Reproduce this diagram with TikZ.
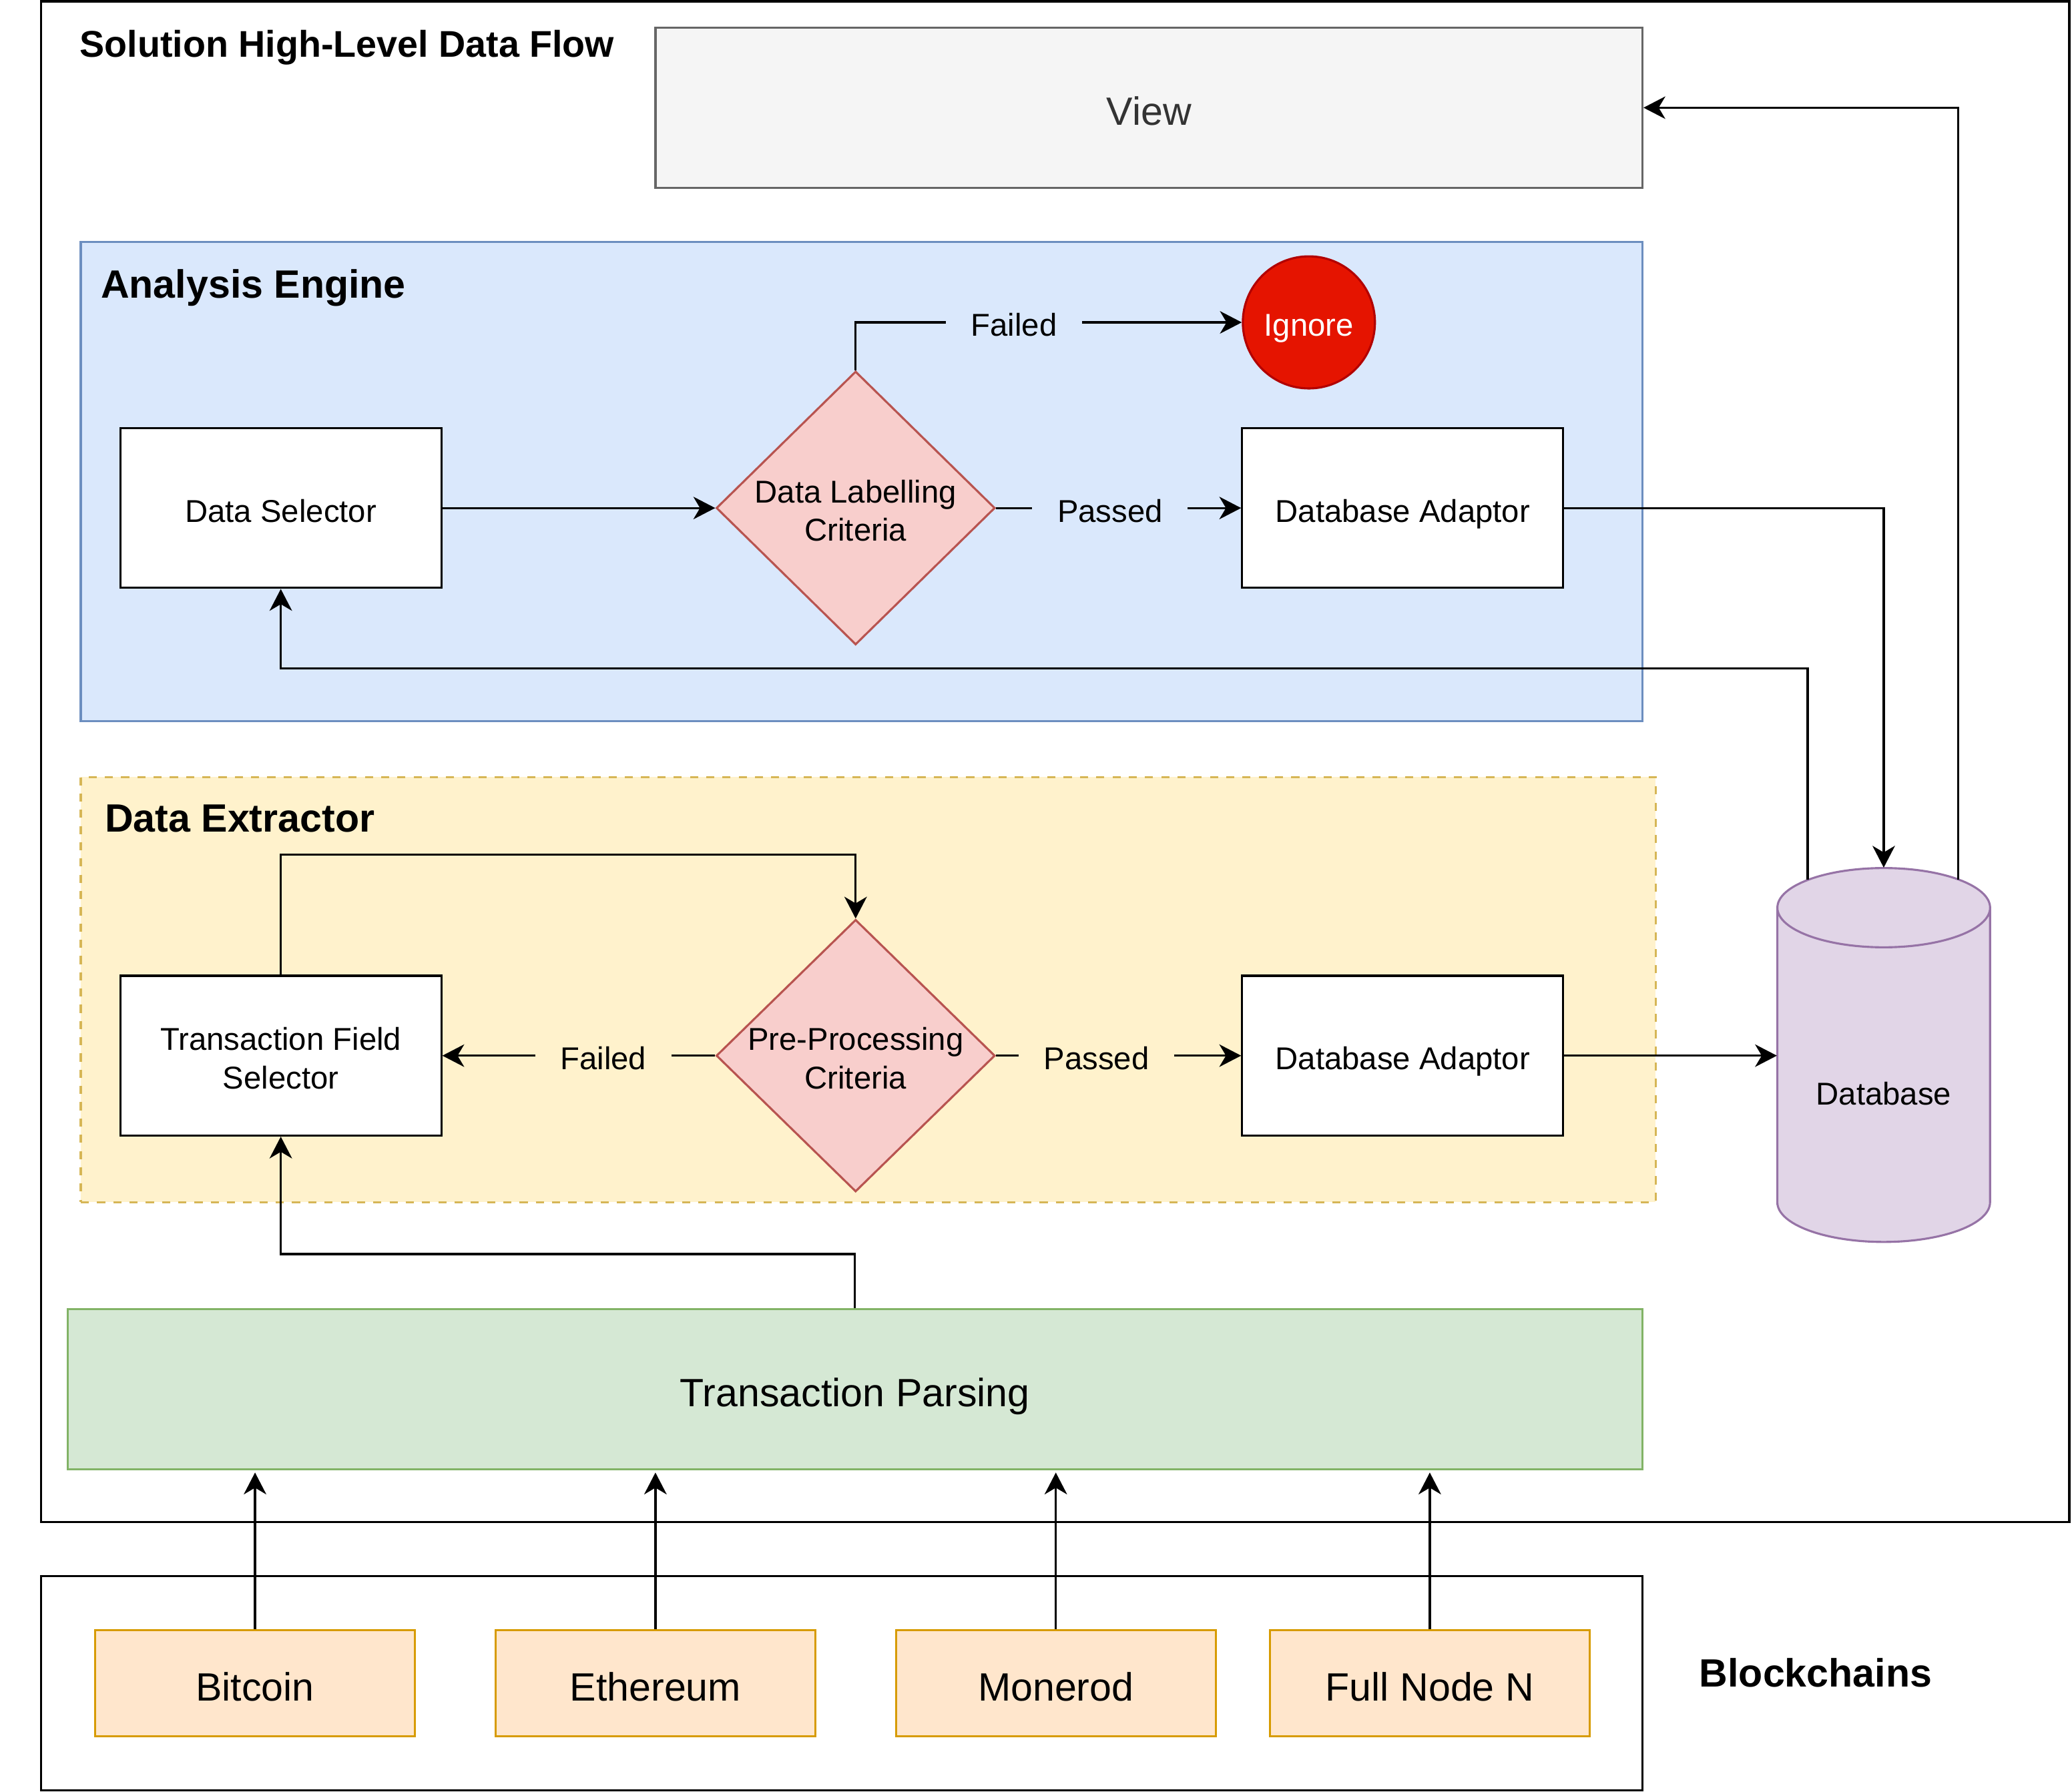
\documentclass[tikz,border=0pt]{standalone}
\usepackage{fontspec}
\setmainfont{Liberation Sans}
\usetikzlibrary{arrows.meta,positioning,shapes.geometric}

\definecolor{viewfill}{HTML}{F5F5F5}
\definecolor{viewline}{HTML}{666666}
\definecolor{viewtext}{HTML}{333333}
\definecolor{engfill}{HTML}{DAE8FC}
\definecolor{engline}{HTML}{6C8EBF}
\definecolor{extfill}{HTML}{FFF2CC}
\definecolor{extline}{HTML}{D6B656}
\definecolor{critfill}{HTML}{F8CECC}
\definecolor{critline}{HTML}{B85450}
\definecolor{ignfill}{HTML}{E51400}
\definecolor{ignline}{HTML}{B20000}
\definecolor{parsefill}{HTML}{D5E8D4}
\definecolor{parseline}{HTML}{82B366}
\definecolor{dbfill}{HTML}{E1D5E7}
\definecolor{dbline}{HTML}{9673A6}
\definecolor{chainfill}{HTML}{FFE6CC}
\definecolor{chainline}{HTML}{D79B00}

\begin{document}
\begin{tikzpicture}[
  x=0.02cm, y=-0.02cm,
  every node/.style={font=\fontsize{13.6}{16.5}\selectfont},
  txt/.style={text height=12pt, text depth=0pt},
  twoline/.style={align=center, text height=28.5pt, text depth=0pt},
  big/.style={font=\fontsize{17}{20}\selectfont, text height=15pt, text depth=0pt},
  heading/.style={font=\bfseries\fontsize{17}{20}\selectfont, anchor=west, inner sep=0pt},
  frame/.style={draw, line width=1pt, inner sep=0pt},
  box/.style={draw, fill=white, line width=0.9pt, txt, align=center, minimum width=4.86cm, minimum height=2.42cm},
  crit/.style={diamond, draw=critline, fill=critfill, line width=0.9pt, inner sep=0pt, minimum width=4.22cm, minimum height=4.14cm},
  chain/.style={draw=chainline, fill=chainfill, line width=0.9pt, big, minimum width=4.84cm, minimum height=1.6cm},
  tagblue/.style={fill=engfill, txt, inner xsep=0.38cm, inner ysep=1pt},
  tagyellow/.style={fill=extfill, txt, inner xsep=0.38cm, inner ysep=1pt},
  arrow/.style={-{Stealth[length=0.33cm, width=0.34cm, inset=0.1cm]}, line width=0.95pt}
]
  \useasboundingbox (0,0) rectangle (1568,1356);

  % outer frames
  \node[frame, minimum width=30.7cm, minimum height=23.02cm] (flow) at (798.5,576.5) {};
  \node[frame, minimum width=24.24cm, minimum height=3.24cm] (chains) at (637,1274) {};
  \node[heading, font=\bfseries\fontsize{16}{19}\selectfont] (flowtitle) at (60,36) {Solution High-Level Data Flow};
  \node[font=\bfseries\fontsize{17}{20}\selectfont] (chaintitle) at (1374,1266) {Blockchains};

  % view
  \node[draw=viewline, fill=viewfill, line width=0.9pt, text=viewtext, big,
        minimum width=14.94cm, minimum height=2.42cm] (view) at (869.5,81.5) {View};

  % analysis engine
  \node[draw=engline, fill=engfill, line width=0.9pt, minimum width=23.64cm, minimum height=7.26cm] (engine) at (652,364.5) {};
  \node[heading] (enginetitle) at (76,218) {Analysis Engine};
  \node[box] (ds) at (212.5,384.5) {Data Selector};
  \node[crit, label={[twoline]center:Data Labelling\\Criteria}] (dlc) at (647.5,384.5) {};
  \node[box] (dba) at (1061.5,384.5) {Database Adaptor};
  \node[circle, draw=ignline, fill=ignfill, line width=0.9pt, text=white, txt, minimum size=2cm, inner sep=0pt] (ign) at (990.5,244) {Ignore};

  % data extractor
  \node[draw=extline, fill=extfill, line width=0.9pt, dash pattern=on 3.5pt off 3.5pt,
        minimum width=23.84cm, minimum height=6.44cm] (extractor) at (657,749) {};
  \node[heading] (extractortitle) at (79,619.5) {Data Extractor};
  \node[box, twoline] (tfs) at (212.5,799) {Transaction Field\\Selector};
  \node[crit, minimum height=4.12cm, label={[twoline]center:Pre-Processing\\Criteria}] (ppc) at (647.5,799) {};
  \node[box] (dba2) at (1061.5,799) {Database Adaptor};

  % database
  \fill[dbfill] (1345,687) -- (1345,910) arc[start angle=180, end angle=360, x radius=1.61cm, y radius=0.6cm]
    -- (1506,687) arc[start angle=0, end angle=180, x radius=1.61cm, y radius=0.6cm] -- cycle;
  \draw[dbline, line width=0.9pt] (1345,687) -- (1345,910) arc[start angle=180, end angle=360, x radius=1.61cm, y radius=0.6cm]
    -- (1506,687) arc[start angle=0, end angle=180, x radius=1.61cm, y radius=0.6cm]
    arc[start angle=180, end angle=360, x radius=1.61cm, y radius=0.6cm];
  \node[minimum width=3.22cm, minimum height=5.66cm, inner sep=0pt,
        label={[yshift=-0.58cm]center:Database}] (db) at (1425.5,798.5) {};
  \coordinate (dbleft) at (1368,666);
  \coordinate (dbright) at (1482,666);

  % transaction parsing
  \node[draw=parseline, fill=parsefill, line width=0.9pt, big,
        minimum width=23.84cm, minimum height=2.42cm] (tp) at (647,1051.5) {Transaction Parsing};

  % blockchains
  \node[chain] (btc) at (193,1274) {Bitcoin};
  \node[chain] (eth) at (496,1274) {Ethereum};
  \node[chain] (xmr) at (799,1274) {Monerod};
  \node[chain] (fnn) at (1082,1274) {Full Node N};

  % connectors
  \draw[arrow] (ds) -- (dlc);
  \draw[arrow] (dlc.north) |- node[tagblue, pos=0.705] {Failed} (ign.west);
  \draw[arrow] (dlc) -- node[tagblue, pos=0.465] {Passed} (dba);
  \draw[arrow] (dba.east) -| (db.north);
  \draw[arrow] (dbleft) -- ++(0,-160) -| (ds.south);
  \draw[arrow] (dbright) |- (view.east);
  \draw[arrow] (tfs.north) -- ++(0,-91) -| (ppc.north);
  \draw[arrow] (ppc) -- node[tagyellow, pos=0.41] {Failed} (tfs);
  \draw[arrow] (ppc) -- node[tagyellow, pos=0.41] {Passed} (dba2);
  \draw[arrow] (dba2.east) -- (dba2.east -| db.west);
  \draw[arrow] (tp.north) -- ++(0,-41) -| (tfs.south);
  \foreach \src in {btc,eth,xmr,fnn}
    \draw[arrow, shorten >=1pt] (\src) -- (\src |- tp.south);
\end{tikzpicture}
\end{document}
